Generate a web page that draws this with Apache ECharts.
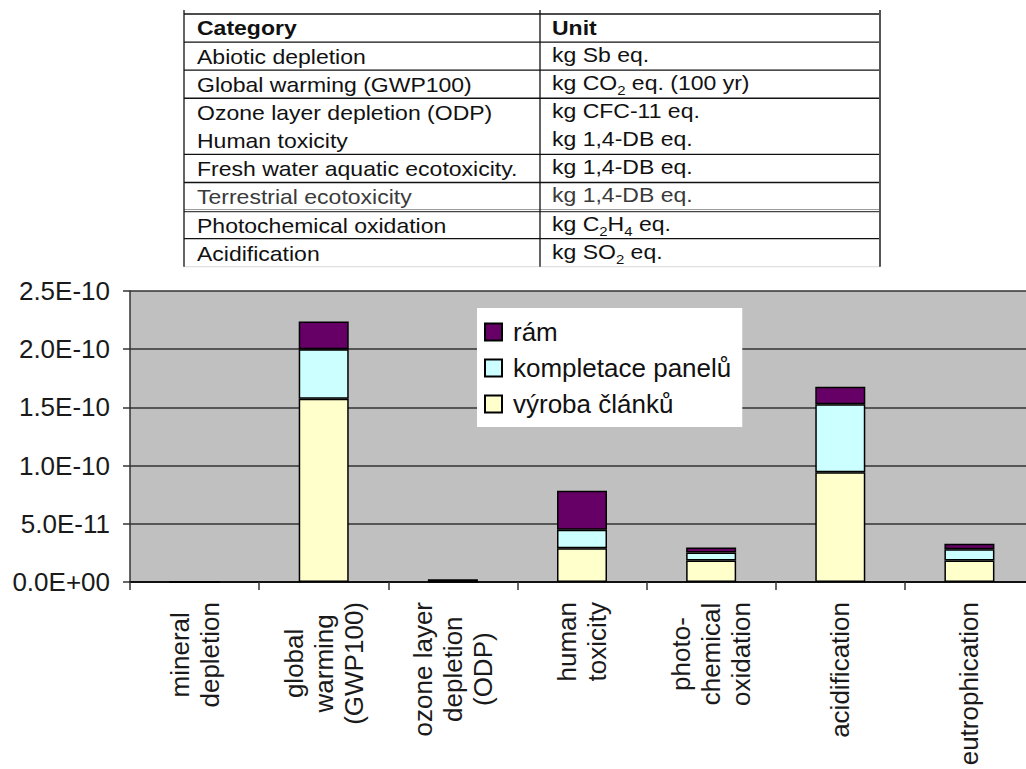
<!DOCTYPE html>
<html>
<head>
<meta charset="utf-8">
<script src="https://cdn.jsdelivr.net/npm/echarts@6/dist/echarts.min.js"></script>
<style>
  html, body { margin: 0; padding: 0; background: #ffffff; }
  #chart { width: 1026px; height: 769px; }
</style>
</head>
<body>
<div id="chart"></div>
<script>
// ---- chart data ----
const categories = [
  'mineral\ndepletion',
  'global\nwarming\n(GWP100)',
  'ozone layer\ndepletion\n(ODP)',
  'human\ntoxicity',
  'photo-\nchemical\noxidation',
  'acidification',
  'eutrophication'
];
const seriesNames = ['výroba článků', 'kompletace panelů', 'rám'];
const vyrobaClanku     = [0, 1.575e-10, 0.5e-12, 2.90e-11, 1.84e-11, 9.42e-11, 1.84e-11];
const kompletacePanelu = [0, 4.25e-11,  0.3e-12, 1.58e-11, 0.69e-11, 5.84e-11, 0.98e-11];
const ram              = [0, 2.39e-11,  1.5e-12, 3.36e-11, 0.43e-11, 1.52e-11, 0.46e-11];
const yStep = 5e-11;
const yTickLabels = ['0.0E+00', '5.0E-11', '1.0E-10', '1.5E-10', '2.0E-10', '2.5E-10'];

// ---- table data ----
const tableHeader = ['Category', 'Unit'];
const tableCategories = [
  'Abiotic depletion',
  'Global warming (GWP100)',
  'Ozone layer depletion (ODP)',
  'Human toxicity',
  'Fresh water aquatic ecotoxicity.',
  'Terrestrial ecotoxicity',
  'Photochemical oxidation',
  'Acidification'
];
const tableUnits = [
  'kg Sb eq.',
  'kg CO{s|2} eq. (100 yr)',
  'kg CFC-11 eq.',
  'kg 1,4-DB eq.',
  'kg 1,4-DB eq.',
  'kg 1,4-DB eq.',
  'kg C{s|2}H{s|4} eq.',
  'kg SO{s|2} eq.'
];

const FONT = '"Liberation Sans", Arial, Helvetica, sans-serif';
const colors = ['#FFFFCC', '#CCFFFF', '#660066'];

// ---- table layout ----
const T = { left: 184, mid: 540, right: 880, top: 14, rowH: 28.08, padL: 13, textScale: 1.15 };
const nRows = tableCategories.length + 1;
const tableGraphics = [];

function cellText(x, y, text, bold, rich, fill) {
  const style = {
    text: rich ? text.replace(/([^{}|]+)(?![^{]*\})/g, '{b|$1}') : text,
    fontSize: 20,
    fontFamily: FONT,
    fontWeight: bold ? 'bold' : 'normal',
    fill: fill || '#111',
    verticalAlign: 'middle',
    align: 'left'
  };
  if (rich) {
    style.rich = {
      b: { fontSize: 20, fontFamily: FONT, fill: fill || '#111', verticalAlign: 'top', lineHeight: 24 },
      s: { fontSize: 13, fontFamily: FONT, fill: fill || '#111', verticalAlign: 'bottom', lineHeight: 12 }
    };
  }
  return { type: 'text', x: x, y: y, scaleX: T.textScale, style: style, silent: true };
}

function hLine(y, color, w) {
  return { type: 'line', shape: { x1: T.left, y1: y, x2: T.right, y2: y },
           style: { stroke: color, lineWidth: w }, silent: true };
}
function vLine(x, y1, y2, color, w) {
  return { type: 'line', shape: { x1: x, y1: y1, x2: x, y2: y2 },
           style: { stroke: color, lineWidth: w }, silent: true };
}

const tableBottom = T.top + nRows * T.rowH;
// horizontal rules (none between the ozone and human toxicity rows)
for (let i = 0; i <= nRows; i++) {
  if (i === 4) continue;
  const y = T.top + i * T.rowH;
  if (i === nRows) tableGraphics.push(hLine(y, '#d8d8d8', 1));
  else if (i === 7) {
    tableGraphics.push(hLine(y - 1, '#999', 1));
    tableGraphics.push(hLine(y + 1, '#444', 1.2));
  }
  else tableGraphics.push(hLine(y, '#111', 1.3));
}
tableGraphics.push(vLine(T.left, T.top - 4, tableBottom, '#111', 1.3));
tableGraphics.push(vLine(T.mid, T.top - 4, tableBottom, '#111', 1.3));
tableGraphics.push(vLine(T.right, T.top - 4, tableBottom, '#555', 2));

// header row
tableGraphics.push(cellText(T.left + T.padL, T.top + 0.5 * T.rowH, tableHeader[0], true));
tableGraphics.push(cellText(T.mid + 12, T.top + 0.5 * T.rowH, tableHeader[1], true));
// body rows
tableCategories.forEach((c, i) => {
  const y = T.top + (i + 1.5) * T.rowH + 1;
  const fill = i === 5 ? '#3a3a3a' : '#111';
  tableGraphics.push(cellText(T.left + T.padL, y, c, false, false, fill));
  tableGraphics.push(cellText(T.mid + 12, y, tableUnits[i], false, true, fill));
});

// ---- chart ----
const chart = echarts.init(document.getElementById('chart'), null, { renderer: 'svg' });

const seriesData = [vyrobaClanku, kompletacePanelu, ram];
const series = seriesNames.map((name, k) => ({
  name: name,
  type: 'bar',
  stack: 'total',
  barWidth: 50,
  data: seriesData[k],
  itemStyle: { color: colors[k], borderColor: '#000', borderWidth: 1.5 },
  emphasis: { disabled: true },
  animation: false
}));

chart.setOption({
  backgroundColor: '#ffffff',
  animation: false,
  graphic: tableGraphics,
  grid: {
    left: 130, top: 291, right: -8, bottom: 187,
    show: true, backgroundColor: '#C0C0C0', borderWidth: 0,
    containLabel: false, outerBoundsMode: 'none'
  },
  legend: {
    orient: 'vertical',
    left: 477, top: 308,
    data: ['rám', 'kompletace panelů', 'výroba článků'],
    backgroundColor: '#ffffff',
    padding: [11, 11, 10, 7],
    itemGap: 10,
    itemWidth: 17, itemHeight: 17,
    icon: 'rect',
    selectedMode: false,
    textStyle: { fontSize: 26, color: '#111', fontFamily: FONT, padding: [0, 0, 0, 6] }
  },
  xAxis: {
    type: 'category',
    data: categories,
    axisLine: { show: true, lineStyle: { color: '#111', width: 2 } },
    axisTick: { show: true, alignWithLabel: false, length: 8, lineStyle: { color: '#333', width: 1.5 } },
    splitLine: { show: false },
    axisLabel: {
      interval: 0,
      rotate: 90,
      margin: 20,
      hideOverlap: false,
      formatter: v => v.split('\n').map(s => '{c|' + s + '}').join('\n'),
      rich: {
        c: { align: 'center', fontSize: 26, lineHeight: 30, fontFamily: FONT, color: '#1a1a1a' }
      }
    }
  },
  yAxis: {
    type: 'value',
    min: 0, max: 2.5e-10, interval: yStep,
    axisLine: { show: true, lineStyle: { color: '#333', width: 1.5 } },
    axisTick: { show: true, length: 7, lineStyle: { color: '#333', width: 1.5 } },
    axisLabel: {
      margin: 20, fontSize: 26, color: '#1a1a1a', fontFamily: FONT,
      formatter: v => yTickLabels[Math.round(v / yStep)]
    },
    splitLine: { show: true, lineStyle: { color: '#333', width: 1.5 } }
  },
  series: series
});
</script>
</body>
</html>
